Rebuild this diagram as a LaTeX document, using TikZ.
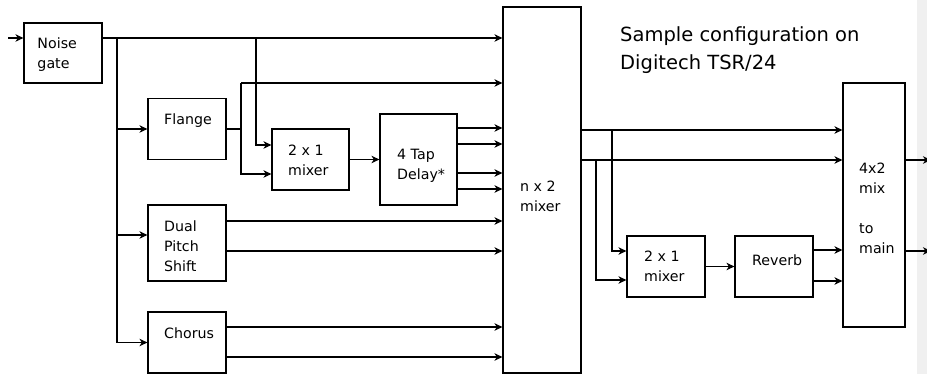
\documentclass[tikz,border=0pt]{standalone}
\usepackage{fontspec}
\setmainfont{DejaVu Sans}
\usetikzlibrary{arrows.meta}
\definecolor{panel}{RGB}{240,240,240}
\begin{document}
\begin{tikzpicture}[x=1pt,y=-1pt,
  box/.style={draw, line width=1.2pt, rectangle, inner sep=0pt},
  lbl/.style={anchor=base west, inner sep=0pt, font=\fontsize{14.2}{20}\selectfont},
  wire/.style={line width=1.2pt},
  arr/.style={wire, -{Stealth[length=8pt,width=7.5pt,inset=2.5pt]}},
]
\useasboundingbox (0,0) rectangle (927,374);
\fill[panel] (917,0) rectangle (927,374);

% boxes
\node[box, minimum width=78pt, minimum height=60pt] (ng)   at (63,53) {};
\node[box, minimum width=78pt, minimum height=61pt] (fl)   at (187,129) {};
\node[box, minimum width=77pt, minimum height=61pt] (mx1)  at (310.5,159.5) {};
\node[box, minimum width=77pt, minimum height=91pt] (dl)   at (418.5,159.5) {};
\node[box, minimum width=78pt, minimum height=366pt] (nx2) at (542,190) {};
\node[box, minimum width=78pt, minimum height=76pt] (dps)  at (187,243) {};
\node[box, minimum width=78pt, minimum height=61pt] (ch)   at (187,342.5) {};
\node[box, minimum width=78pt, minimum height=61pt] (mx2)  at (666,266.5) {};
\node[box, minimum width=78pt, minimum height=61pt] (rv)   at (774,266.5) {};
\node[box, minimum width=62pt, minimum height=244pt] (mix4) at (874,205) {};

% labels
\node[lbl] (ngt)   at (37.3,48.3) {\vtop{\hbox{Noise}\hbox{gate}}};
\node[lbl] (flt)   at (164,125) {Flange};
\node[lbl] (mx1t)  at (288,156) {\vtop{\hbox{2 x 1}\hbox{mixer}}};
\node[lbl] (dlt)   at (397,160) {\vtop{\hbox{4 Tap}\hbox{Delay*}}};
\node[lbl] (nx2t)  at (520,192) {\vtop{\hbox{n x 2}\hbox{mixer}}};
\node[lbl] (dpst)  at (164,232) {\vtop{\hbox{Dual}\hbox{Pitch}\hbox{Shift}}};
\node[lbl] (cht)   at (164,338) {Chorus};
\node[lbl] (mx2t)  at (644,262) {\vtop{\hbox{2 x 1}\hbox{mixer}}};
\node[lbl] (rvt)   at (752,266) {Reverb};
\node[lbl] (mix4t) at (859,174) {\vtop{\hbox{4x2}\hbox{mix}\hbox{}\hbox{to}\hbox{main}}};
\node[anchor=base west, inner sep=0pt, font=\fontsize{19.5}{27.7}\selectfont] (title) at (620,42)
  {\vtop{\hbox{Sample configuration on}\hbox{Digitech TSR/24}}};

% connectors
\coordinate (in) at (8,38);
\coordinate (b1) at (117,38);
\coordinate (b2) at (256,38);
\draw[arr] (in) -- (in -| ng.west);
\draw[arr] (ng.east |- b1) -- (nx2.west |- b1);
\draw[wire] (b1) -- (b1 |- ch.west);
\draw[arr] (b1 |- fl.west) -- (fl.west);
\coordinate (dpsin) at (117,235);
\draw[arr] (dpsin) -- (dpsin -| dps.west);
\draw[arr] (b1 |- ch.west) -- (ch.west);
\coordinate (mx1a) at (256,145);
\draw[arr] (b2) -- (mx1a) -- (mx1a -| mx1.west);
\coordinate (f0) at (241,129);
\coordinate (f1) at (241,83);
\coordinate (f2) at (241,174);
\draw[wire] (fl.east) -- (f0);
\draw[arr] (f1) -- (f1 -| nx2.west);
\draw[arr] (f1) -- (f2) -- (f2 -| mx1.west);
\draw[arr] (mx1.east) -- (dl.west);
\foreach \y in {128,144,173,189} {\draw[arr] (dl.east |- 0,\y) -- (nx2.west |- 0,\y);}
\foreach \y in {221,251} {\draw[arr] (dps.east |- 0,\y) -- (nx2.west |- 0,\y);}
\foreach \y in {327,357} {\draw[arr] (ch.east |- 0,\y) -- (nx2.west |- 0,\y);}
\coordinate (o1) at (612,130);
\coordinate (o2) at (596,160);
\draw[arr] (nx2.east |- o1) -- (mix4.west |- o1);
\draw[arr] (nx2.east |- o2) -- (mix4.west |- o2);
\draw[arr] (o1) -- (o1 |- 0,251) -- (mx2.west |- 0,251);
\draw[arr] (o2) -- (o2 |- 0,280) -- (mx2.west |- 0,280);
\draw[arr] (mx2.east) -- (rv.west);
\foreach \y in {250,281} {\draw[arr] (rv.east |- 0,\y) -- (mix4.west |- 0,\y);}
\coordinate (out1) at (931,160);
\coordinate (out2) at (931,251);
\draw[arr] (mix4.east |- out1) -- (out1);
\draw[arr] (mix4.east |- out2) -- (out2);
\end{tikzpicture}
\end{document}
